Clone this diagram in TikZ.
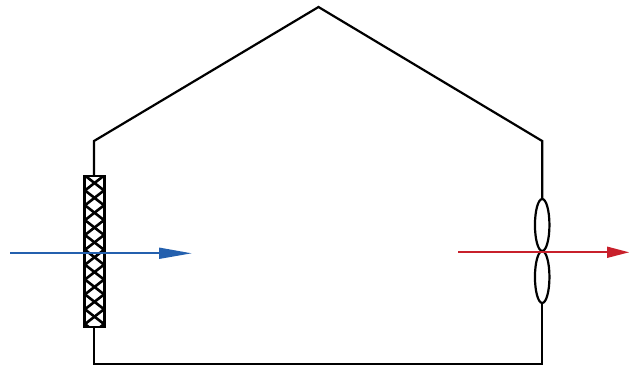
\documentclass[tikz,border=0pt]{standalone}
\usetikzlibrary{shapes.geometric}
\definecolor{inblue}{HTML}{2460AE}
\definecolor{outred}{HTML}{C8202B}
\tikzset{
  wall/.style={line width=2.2pt,line join=miter},
  frame/.style={line width=2.6pt},
  mesh/.style={line width=2.6pt},
  flow/.style={line width=1.9pt},
  blade/.style={draw,ellipse,wall,minimum width=14.5pt,minimum height=52pt,inner sep=0pt},
}
\begin{document}
\begin{tikzpicture}[x=1pt,y=-1pt]
\useasboundingbox (0,0) rectangle (629,365);
\coordinate (apex) at (318.5,7);
\coordinate (nw) at (94,141);
\coordinate (ne) at (542.2,141);
\coordinate (sw) at (94,364);
\coordinate (se) at (542.2,364);
% house outline
\draw[wall] (94,176) -- (nw) -- (apex) -- (ne) -- (542.2,199);
\draw[wall] (94,327) -- (sw) -- (se) -- (542.2,303);
% filter
\begin{scope}
\clip (84.5,175.5) rectangle (104.5,327.5);
\foreach \k in {-1,...,10}{
  \draw[mesh] (84.5,{175.2+14.85*\k}) -- (104.5,{190.8+14.85*\k});
  \draw[mesh] (84.5,{190.8+14.85*\k}) -- (104.5,{175.2+14.85*\k});
}
\end{scope}
\draw[frame] (84.7,176) rectangle (104.3,327);
% fan
\node[blade] (bladeT) at (542.2,225) {};
\node[blade] (bladeB) at (542.2,277) {};
% flows
\coordinate (inS) at (10,253);
\coordinate (inE) at (191.5,253.3);
\coordinate (outS) at (458,252);
\coordinate (outE) at (629,252.3);
\draw[flow,inblue] (inS) -- (160,253);
\fill[inblue] (159,247.5) -- (inE) -- (159,259) -- cycle;
\draw[flow,outred] (outS) -- (608,252);
\fill[outred] (607,246.5) -- (outE) -- (607,258) -- cycle;
\end{tikzpicture}
\end{document}
